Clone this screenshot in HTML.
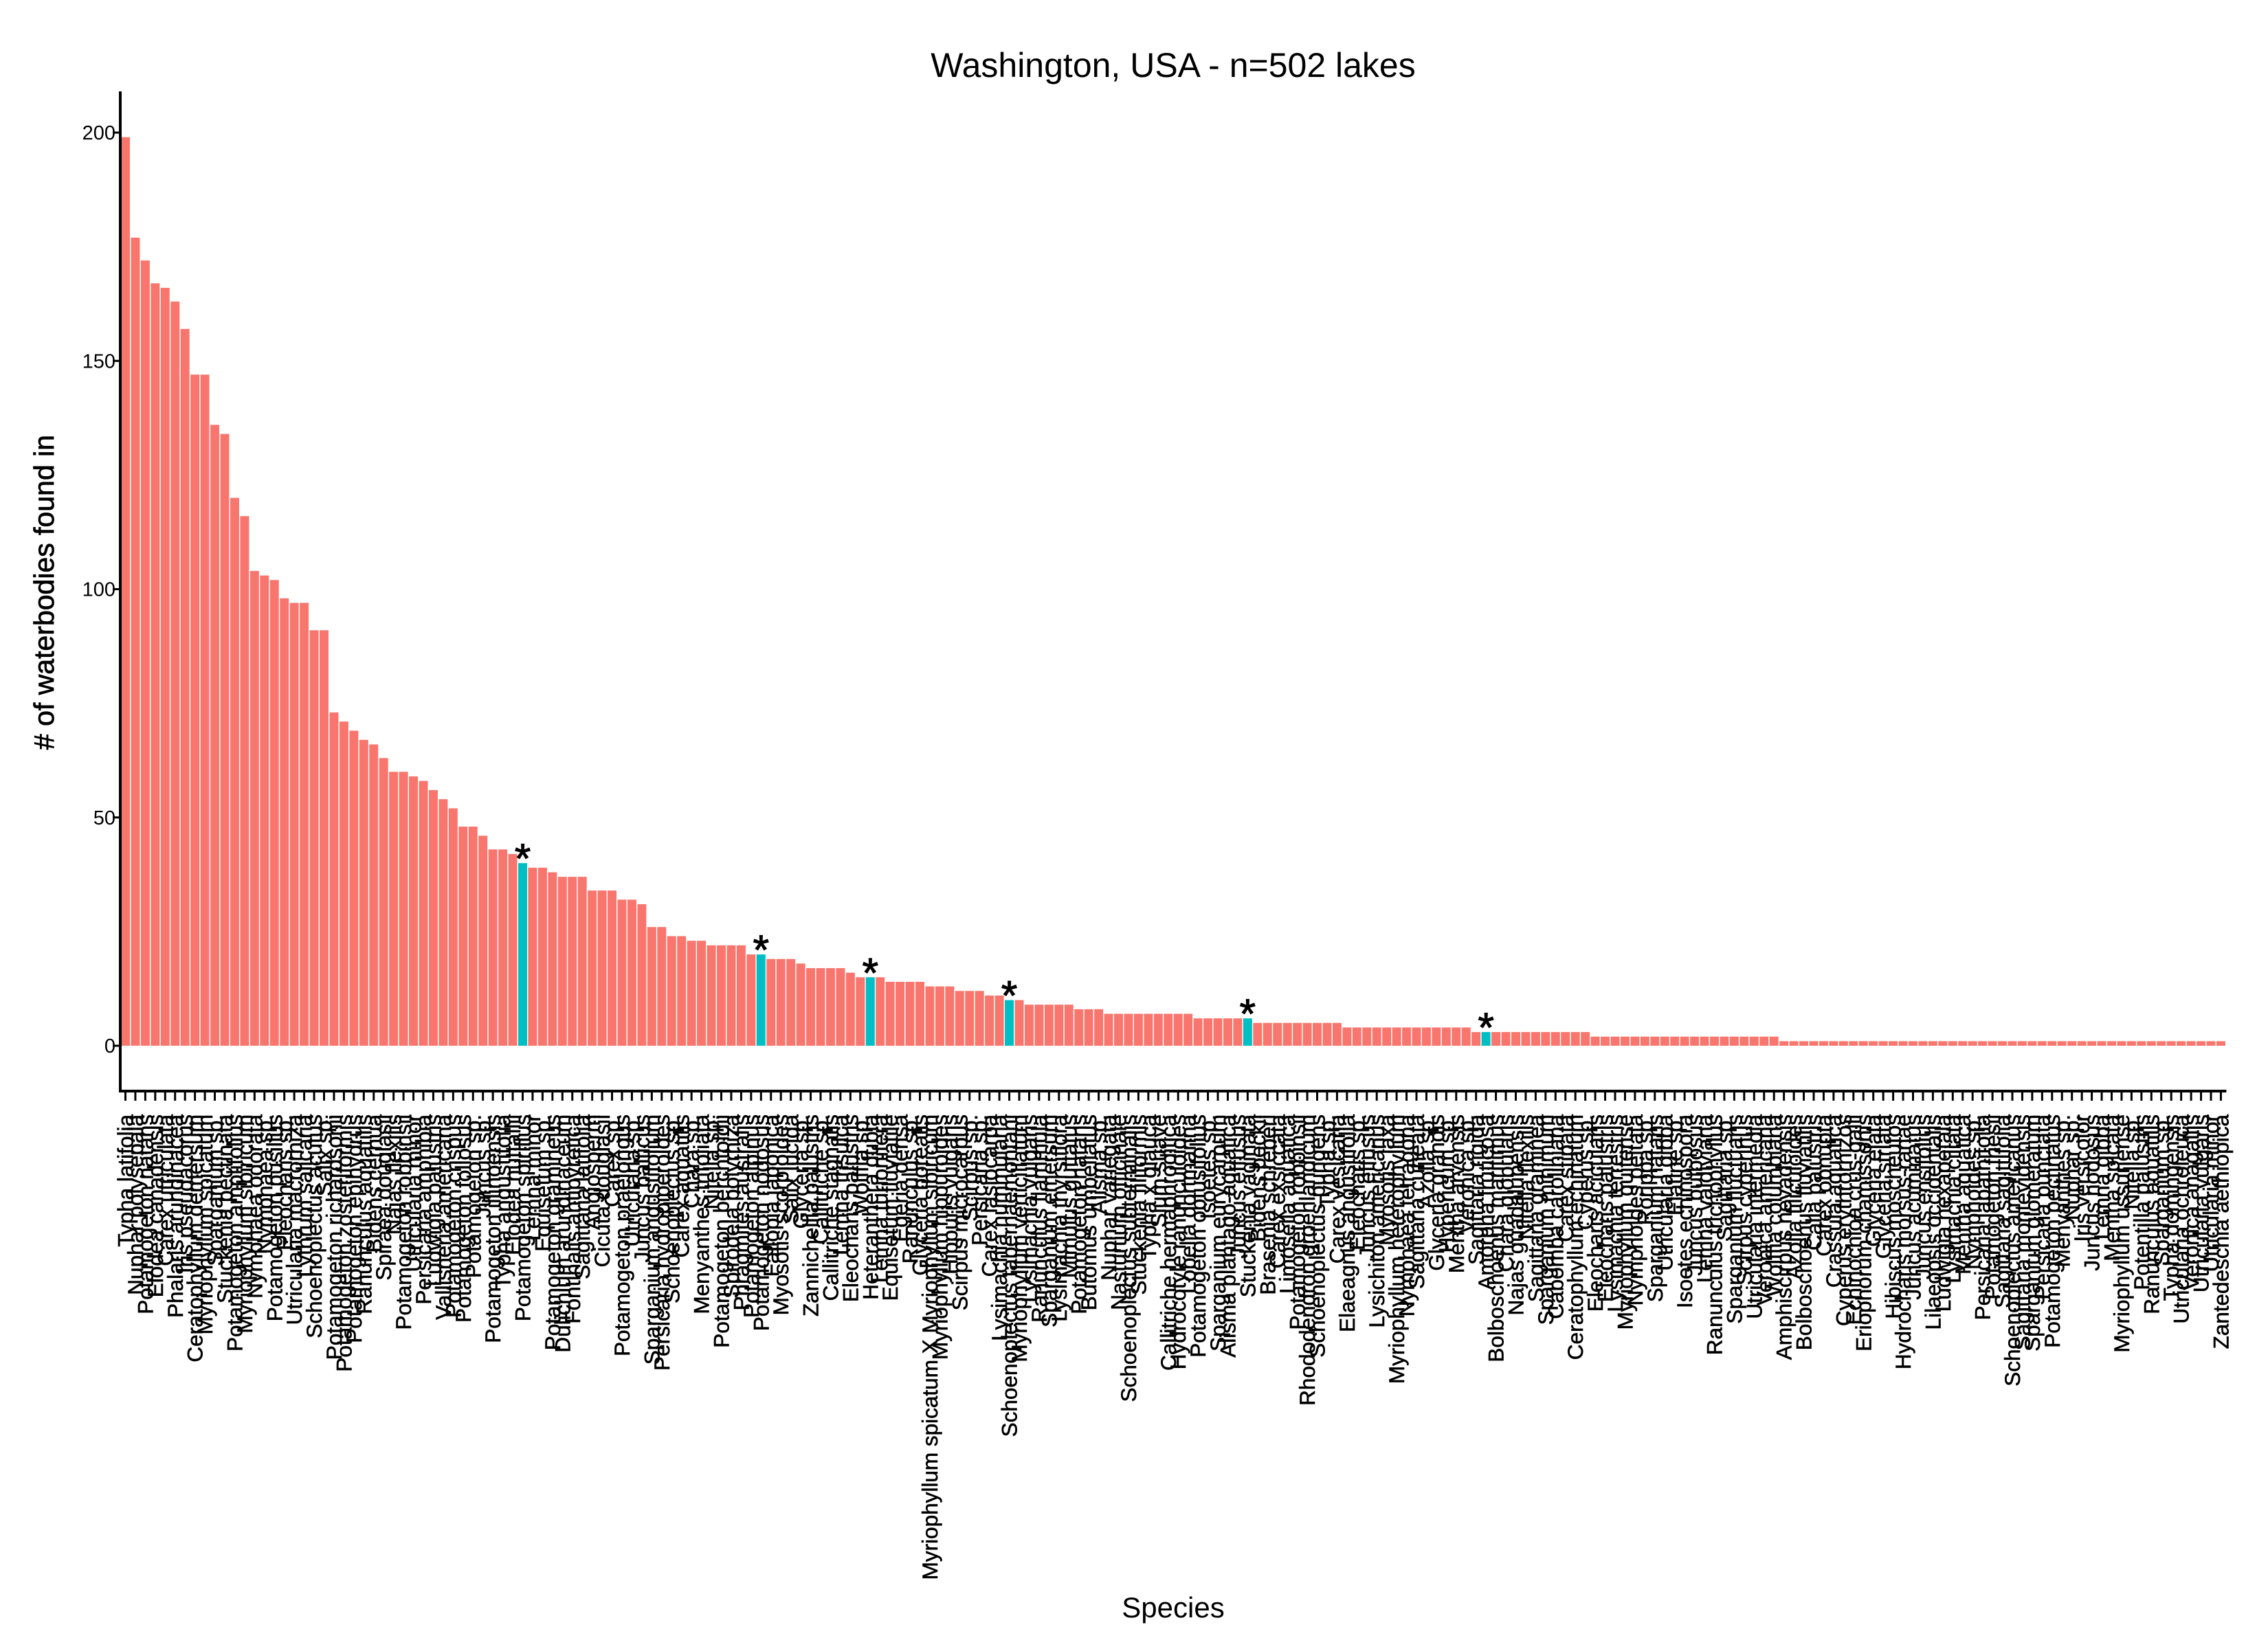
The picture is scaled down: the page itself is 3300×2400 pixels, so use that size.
<!DOCTYPE html>
<html>
<head>
<meta charset="utf-8">
<style>
  html,body{margin:0;padding:0;background:#fff;}
  svg{display:block;}
  text{font-family:"Liberation Sans",Arial,sans-serif;fill:#000;}
</style>
</head>
<body>
<svg id="chart" width="3300" height="2400" viewBox="0 0 3300 2400" xmlns="http://www.w3.org/2000/svg">
  <rect x="0" y="0" width="3300" height="2400" fill="#ffffff"/>
  <text x="1707" y="112" font-size="50" text-anchor="middle">Washington, USA - n=502 lakes</text>
  <text transform="translate(78,862) rotate(-90)" font-size="41" text-anchor="middle" stroke="#000" stroke-width="0.8"># of waterbodies found in</text>
  <text x="1707" y="2354" font-size="42" text-anchor="middle">Species</text>
  <g id="bars"></g>
  <g id="stars"></g>
  <g id="yaxis"></g>
  <g id="xaxis"></g>
</svg>
<script>
const species = [
"Typha latifolia","Nuphar polysepala","Potamogeton natans","Elodea canadensis","Carex utriculata","Phalaris arundinacea","Iris pseudacorus","Ceratophyllum demersum","Myriophyllum spicatum","Sparganium sp.",
"Stuckenia pectinata","Potamogeton amplifolius","Myriophyllum sibiricum","Nymphaea odorata","Nymphaea sp.","Potamogeton pusillus","Eleocharis sp.","Utricularia macrorhiza","Lythrum salicaria","Schoenoplectus acutus",
"Salix sp.","Potamogeton richardsonii","Potamogeton zosteriformis","Potamogeton epihydrus","Ranunculus aquatilis","Bidens cernua","Spiraea douglasii","Najas flexilis","Potamogeton robbinsii","Utricularia minor",
"Persicaria amphibia","Ludwigia palustris","Vallisneria americana","Potamogeton crispus","Potamogeton foliosus","Potamogeton sp.","Juncus sp.","Potamogeton illinoensis","Typha angustifolia","Elodea nuttallii",
"Potamogeton spirillus","Lemna minor","Equisetum sp.","Potamogeton gramineus","Dulichium arundinaceum","Fontinalis antipyretica","Sagittaria latifolia","Angiosperm","Cicuta douglasii","Carex sp.",
"Potamogeton praelongus","Utricularia sp.","Juncus balticus","Sparganium angustifolium","Persicaria hydropiperoides","Schoenoplectus sp.","Carex aquatilis","Chara sp.","Menyanthes trifoliata","Nitella sp.",
"Potamogeton berchtoldii","Spirodela polyrhiza","Phragmites australis","Potamogeton alpinus","Potamogeton nodosus","Fallopia japonica","Myosotis scorpioides","Salix lucida","Glyceria sp.","Zannichellia palustris",
"Callitriche sp.","Callitriche stagnalis","Lemna trisulca","Eleocharis palustris","Wolffia sp.","Heteranthera dubia","Lemna turionifera","Equisetum fluviatile","Egeria densa","Ranunculus sp.",
"Glyceria borealis","Myriophyllum spicatum X Myriophyllum sibiricum","Myriophyllum hippuroides","Hippuris vulgaris","Scirpus microcarpus","Scirpus sp.","Persicaria sp.","Carex lasiocarpa","Lysimachia nummularia","Schoenoplectus tabernaemontani",
"Myriophyllum verticillatum","Lysimachia vulgaris","Ranunculus flammula","Sparganium emersum","Lysimachia thyrsiflora","Mimulus guttatus","Potamogeton natans","Butomus umbellatus","Alisma sp.","Nuphar variegata",
"Nasturtium officinale","Schoenoplectus subterminalis","Stuckenia filiformis","Typha x glauca","Sium suave","Callitriche hermaphroditica","Hydrocotyle ranunculoides","Lobelia dortmanna","Potamogeton obtusifolius","Isoetes sp.",
"Sparganium eurycarpum","Alisma plantago-aquatica","Juncus effusus","Stuckenia vaginata","Bidens beckii","Brasenia schreberi","Carex exsiccata","Limosella aquatica","Potamogeton robbinsii","Rhododendron groenlandicum",
"Schoenoplectus pungens","Typha sp.","Carex vesicaria","Elaeagnus angustifolia","Eleocharis sp.","Juncus effusus","Lysichiton americanus","Myosotis laxa","Myriophyllum heterophyllum","Nymphaea tetragona",
"Sagittaria cuneata","Azolla sp.","Glyceria grandis","Hypericum sp.","Mentha arvensis","Veronica sp.","Sagittaria rigida","Amorpha fruticosa","Bolboschoenus maritimus","Chara globularis",
"Najas guadalupensis","Nitella flexilis","Sagittaria graminea","Sparganium minimum","Cabomba caroliniana","Carex stipata","Ceratophyllum echinatum","Cyperus sp.","Eleocharis acicularis","Eleocharis palustris",
"Lysimachia terrestris","Myriophyllum quitense","Nymphoides peltata","Rorippa sp.","Sparganium natans","Utricularia gibba","Elatine sp.","Isoetes echinospora","Juncus bulbosus","Lemna valdiviana",
"Ranunculus trichophyllus","Sagittaria sp.","Sparganium fluctuans","Scirpus cyperinus","Utricularia intermedia","Veronica americana","Wolffia columbiana","Amphiscirpus nevadensis","Azolla filiculoides","Bolboschoenus fluviatilis",
"Calla palustris","Carex obnupta","Crassula aquatica","Cyperus erythrorhizos","Echinochloa crus-galli","Eriophorum chamissonis","Glyceria elata","Glyceria striata","Hibiscus moscheutos","Hydrocharis morsus-ranae",
"Juncus acuminatus","Juncus ensifolius","Lilaeopsis occidentalis","Ludwigia hexapetala","Lysimachia ciliata","Mentha aquatica","Nymphoides sp.","Persicaria lapathifolia","Potamogeton friesii","Sagittaria sagittifolia",
"Schoenoplectus americanus","Sagittaria montevidensis","Sparganium glomeratum","Persicaria punctata","Potamogeton pectinatus","Menyanthes sp.","Nuphar sp.","Iris versicolor","Juncus nodosus","Lemna gibba",
"Mentha spicata","Myriophyllum ussuriense","Nitella sp.","Potentilla palustris","Ranunculus aquatilis","Sparganium sp.","Typha domingensis","Utricularia ochroleuca","Veronica anagallis","Utricularia vulgaris","Utricularia minor","Zantedeschia aethiopica"
];
const counts = [
199,177,172,167,166,163,157,147,147,136,
134,120,116,104,103,102,98,97,97,91,
91,73,71,69,67,66,63,60,60,59,
58,56,54,52,48,48,46,43,43,42,
40,39,39,38,37,37,37,34,34,34,
32,32,31,26,26,24,24,23,23,22,
22,22,22,20,20,19,19,19,18,17,
17,17,17,16,15,15,15,14,14,14,
14,13,13,13,12,12,12,11,11,10,
10,9,9,9,9,9,8,8,8,7,
7,7,7,7,7,7,7,7,6,6,
6,6,6,6,5,5,5,5,5,5,
5,5,5,4,4,4,4,4,4,4,
4,4,4,4,4,4,3,3,3,3,
3,3,3,3,3,3,3,3,2,2,
2,2,2,2,2,2,2,2,2,2,
2,2,2,2,2,2,2,1,1,1,
1,1,1,1,1,1,1,1,1,1,
1,1,1,1,1,1,1,1,1,1,
1,1,1,1,1,1,1,1,1,1,
1,1,1,1,1,1,1,1,1,1,
1,1
];
const highlighted = [40,64,75,89,113,137];
const yTicks = [0,50,100,150,200];
const yTickLabels = ["0","50","100","150","200"];

const NS = "http://www.w3.org/2000/svg";
const X0 = 176, STEP = 14.45, BARW = 13.0;
const Y0 = 1522, PXU = 6.645;
function xPos(i){ return X0 + i*STEP; }
function yPos(v){ return Y0 - v*PXU; }
function mk(tag, attrs){ const e = document.createElementNS(NS, tag); for (const k in attrs) e.setAttribute(k, attrs[k]); return e; }

const barsG = document.getElementById('bars');
const starsG = document.getElementById('stars');
const xG = document.getElementById('xaxis');
const yG = document.getElementById('yaxis');

counts.forEach((v,i)=>{
  const hl = highlighted.includes(i);
  const r = mk('rect',{x:xPos(i).toFixed(2), y:yPos(v).toFixed(2), width:BARW, height:(v*PXU).toFixed(2), fill: hl ? '#00BFC4' : '#F8766D'});
  
  
  barsG.appendChild(r);
  if (hl) {
    const s = mk('text',{x:(xPos(i)+BARW/2).toFixed(2), y:(yPos(v)+14).toFixed(2), 'font-size':60, 'text-anchor':'middle', stroke:'#000', 'stroke-width':1.2});
    s.textContent = '*';
    
    
    starsG.appendChild(s);
  }
  const cx = xPos(i)+BARW/2;
  const t = mk('line',{x1:cx, x2:cx, y1:1588, y2:1602, stroke:'#000', 'stroke-width':3});
  
  
  xG.appendChild(t);
  const lb = mk('text',{transform:`translate(${(cx+11).toFixed(2)},1622) rotate(-90)`, 'font-size':31.5, 'text-anchor':'end', stroke:'#000', 'stroke-width':0.6});
  lb.textContent = species[i] || '';
  
  
  xG.appendChild(lb);
});

const xl = mk('line',{x1:174, x2:xPos(counts.length), y1:1588, y2:1588, stroke:'#000', 'stroke-width':4});


xG.appendChild(xl);

const yl = mk('line',{x1:175, x2:175, y1:133, y2:1590, stroke:'#000', 'stroke-width':4});


yG.appendChild(yl);

yTicks.forEach((v,k)=>{
  const tk = mk('line',{x1:164, x2:175, y1:yPos(v), y2:yPos(v), stroke:'#000', 'stroke-width':3});
  
  
  yG.appendChild(tk);
  const lt = mk('text',{x:168, y:(yPos(v)+10).toFixed(2), 'font-size':29, 'text-anchor':'end'});
  lt.textContent = yTickLabels[k];
  
  
  yG.appendChild(lt);
});
</script>
</body>
</html>
